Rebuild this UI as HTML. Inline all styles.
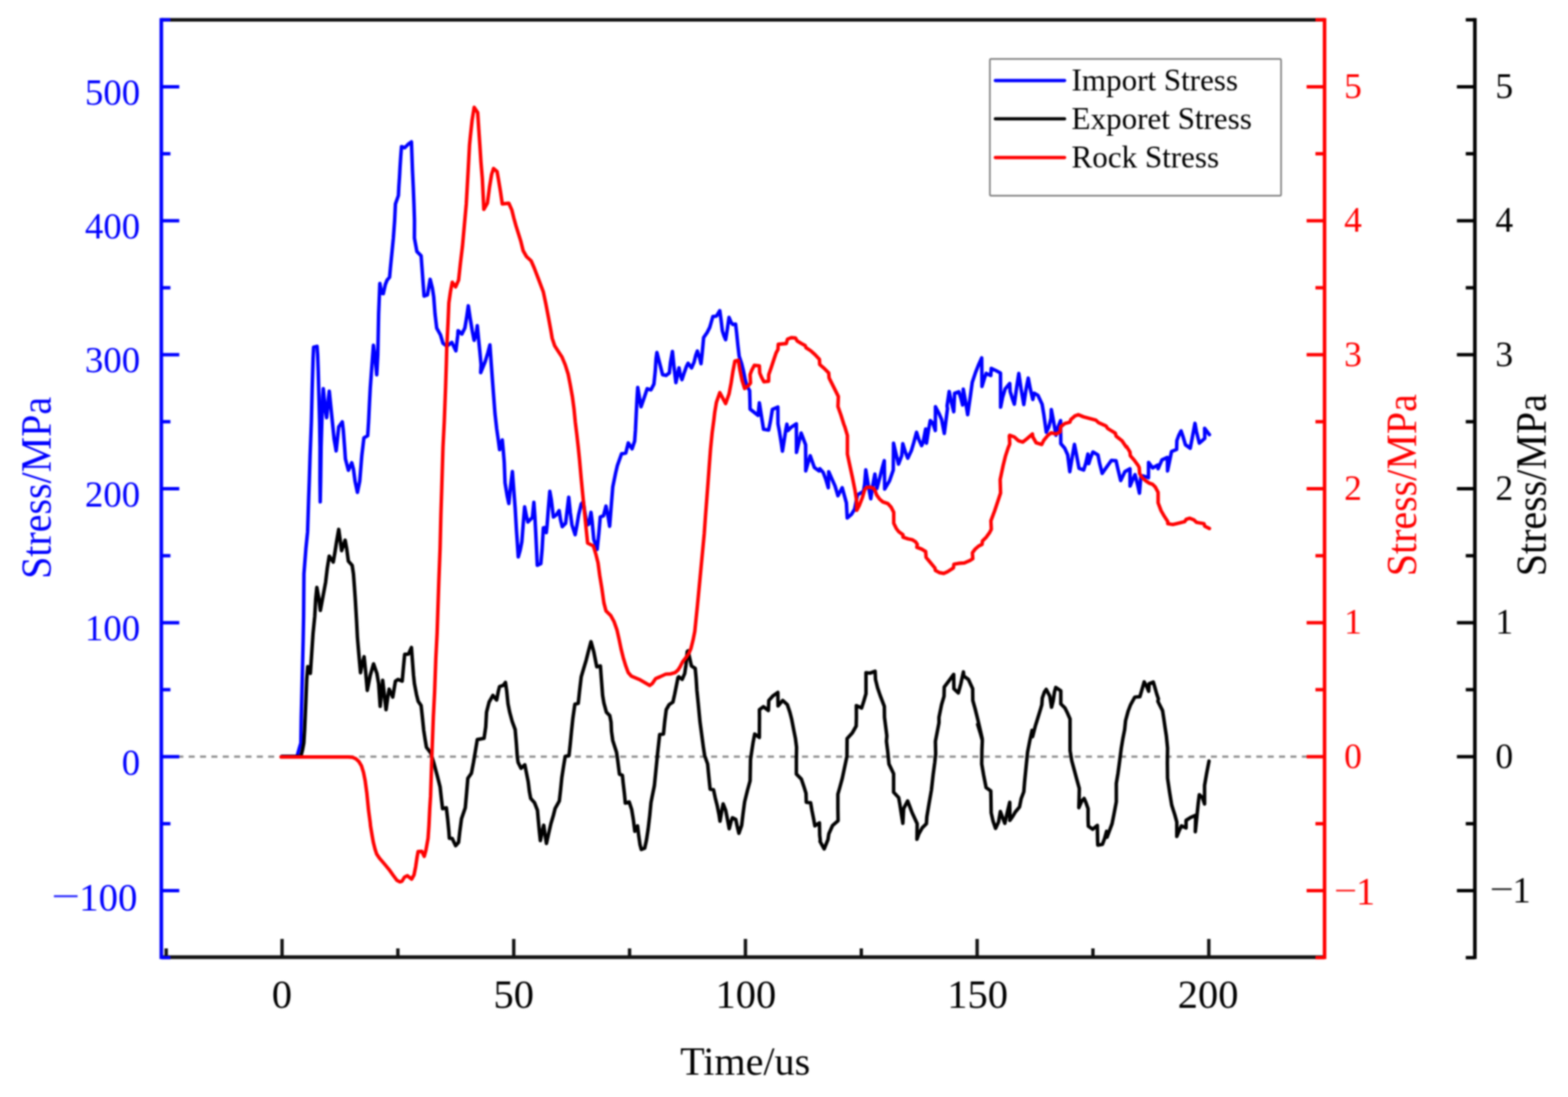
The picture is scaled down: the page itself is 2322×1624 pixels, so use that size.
<!DOCTYPE html>
<html lang="en"><head><meta charset="utf-8"><title>Stress vs Time</title>
<style>
html,body{margin:0;padding:0;background:#fff;}
body{width:2322px;height:1624px;overflow:hidden;}
svg{display:block;}
text{font-family:'Liberation Serif','Times New Roman',serif;}
</style></head><body>
<svg xmlns="http://www.w3.org/2000/svg" width="2322" height="1624" viewBox="0 0 2322 1624">
<defs><filter id="soft" x="0" y="0" width="2322" height="1624" filterUnits="userSpaceOnUse" color-interpolation-filters="sRGB"><feConvolveMatrix order="9" kernelMatrix="0.00000 0.00002 0.00011 0.00030 0.00043 0.00030 0.00011 0.00002 0.00000 0.00002 0.00021 0.00121 0.00343 0.00486 0.00343 0.00121 0.00021 0.00002 0.00011 0.00121 0.00687 0.01948 0.02757 0.01948 0.00687 0.00121 0.00011 0.00030 0.00343 0.01948 0.05520 0.07812 0.05520 0.01948 0.00343 0.00030 0.00043 0.00486 0.02757 0.07812 0.11055 0.07812 0.02757 0.00486 0.00043 0.00030 0.00343 0.01948 0.05520 0.07812 0.05520 0.01948 0.00343 0.00030 0.00011 0.00121 0.00687 0.01948 0.02757 0.01948 0.00687 0.00121 0.00011 0.00002 0.00021 0.00121 0.00343 0.00486 0.00343 0.00121 0.00021 0.00002 0.00000 0.00002 0.00011 0.00030 0.00043 0.00030 0.00011 0.00002 0.00000" divisor="1" edgeMode="duplicate" preserveAlpha="true"/></filter></defs>
<g filter="url(#soft)">
<rect width="2322" height="1624" fill="#fff"/>
<line x1="262.6" y1="1120.2" x2="1935.5" y2="1120.2" stroke="#8c8c8c" stroke-width="3.3" stroke-dasharray="8.9 7.92"/>
<polyline points="417.5,1119.9 439.9,1119.7 442.6,1110.0 445.5,1100.0 446.1,1061.9 447.1,1024.6 448.0,987.2 448.9,949.8 449.6,912.5 449.9,874.4 450.1,849.5 453.0,812.1 455.5,787.2 456.3,762.3 457.1,737.4 458.0,712.5 459.2,674.4 461.1,624.6 462.3,574.7 463.6,531.1 464.4,514.0 469.5,512.7 470.4,524.9 471.3,549.8 472.3,587.2 473.3,624.6 473.9,661.9 473.8,712.5 474.2,743.0 474.8,712.5 475.5,661.9 476.6,624.6 477.9,587.2 478.8,575.4 481.6,605.9 483.7,618.3 486.0,593.4 487.6,579.1 489.7,599.7 492.2,624.6 494.7,649.5 497.8,667.5 499.7,649.5 501.6,632.0 506.9,624.6 508.4,637.0 510.3,661.9 511.5,679.4 515.9,696.2 520.9,685.0 523.4,694.3 525.8,712.5 529.3,728.9 532.7,712.5 535.8,674.4 538.9,648.2 544.5,645.1 545.8,624.6 547.0,599.7 548.3,574.7 550.1,549.8 553.0,511.2 555.7,531.1 557.9,554.8 559.5,524.9 560.7,464.6 561.7,439.7 562.5,419.5 565.1,434.0 567.6,434.7 570.7,421.0 573.2,414.7 576.9,410.4 578.2,396.1 580.7,371.1 582.5,352.5 584.4,326.8 585.6,301.9 590.0,289.5 590.6,277.0 591.6,262.1 592.5,245.9 593.5,230.9 594.6,217.0 599.3,218.8 604.3,213.7 609.3,210.1 609.9,227.2 610.8,252.1 612.0,277.0 613.0,301.9 613.8,326.8 613.7,352.5 617.4,372.4 623.6,378.6 624.9,396.1 626.7,421.0 628.0,438.4 633.0,436.5 637.0,413.5 640.4,427.2 642.3,439.7 644.2,464.6 646.7,485.7 652.3,495.7 656.0,508.2 661.6,512.5 669.1,506.9 675.1,519.4 677.8,497.0 678.4,489.5 684.0,494.5 688.4,485.7 690.9,470.8 693.5,452.7 696.2,470.8 699.3,489.5 702.1,503.8 704.9,495.7 706.8,482.0 708.7,501.9 710.6,520.6 712.4,540.0 711.8,551.7 718.6,534.9 722.4,522.4 725.5,510.6 727.4,537.4 729.2,562.3 731.1,587.2 733.0,612.1 735.5,634.5 738.0,652.0 739.8,665.7 743.8,651.3 745.4,668.2 746.7,684.4 747.9,714.9 751.0,733.6 753.5,745.4 756.0,721.1 758.8,698.1 761.0,727.4 762.9,752.3 764.7,783.4 766.0,802.1 767.5,824.5 770.3,814.6 772.8,802.1 774.7,777.2 776.9,750.4 779.7,764.7 781.8,772.8 788.4,766.0 790.6,743.6 792.1,764.7 793.4,789.7 794.6,814.6 795.6,837.0 800.9,834.5 802.7,814.6 804.6,781.6 806.8,780.9 809.0,788.4 810.2,777.2 812.1,752.3 814.2,727.4 816.4,739.8 819.5,765.4 823.9,762.2 828.0,756.0 830.1,769.7 832.6,779.7 837.6,774.7 839.5,758.5 842.2,736.1 844.5,758.5 847.0,777.2 851.7,791.5 854.4,777.2 856.9,762.2 860.7,746.1 863.8,742.9 866.3,759.8 869.4,777.2 871.9,775.9 875.2,758.5 876.8,771.0 879.3,798.4 884.3,813.3 886.8,789.7 888.9,765.4 893.7,763.5 897.4,749.2 900.5,764.7 902.8,779.1 904.9,752.3 907.4,721.1 911.7,700.0 914.2,689.3 920.4,671.9 926.7,670.7 930.4,655.7 936.0,664.4 939.8,653.2 941.0,637.0 942.2,612.1 943.5,587.2 944.4,573.5 949.3,602.1 954.1,588.4 958.4,575.4 964.0,577.2 968.4,568.5 970.3,549.8 971.5,531.1 972.8,521.8 981.2,554.6 986.2,555.8 991.2,552.1 993.0,535.9 995.8,520.3 998.0,542.1 1000.9,566.4 1003.4,554.6 1005.5,544.6 1007.4,554.6 1009.9,562.0 1013.6,550.8 1016.7,542.1 1019.0,537.7 1024.2,544.6 1027.9,535.9 1030.4,525.9 1032.7,519.7 1036.0,529.7 1038.1,538.4 1039.8,523.4 1042.0,499.8 1047.2,492.3 1051.0,484.8 1053.5,476.1 1055.7,468.6 1060.9,468.0 1065.9,459.9 1067.8,473.6 1069.7,489.8 1072.1,497.3 1074.6,502.9 1077.1,487.3 1079.6,469.9 1082.7,477.3 1085.2,480.4 1089.3,479.8 1090.8,492.3 1092.7,511.0 1094.6,527.2 1098.3,538.4 1100.8,548.3 1103.3,560.8 1105.8,570.8 1110.1,578.2 1110.5,591.9 1110.8,605.6 1122.6,615.0 1124.5,596.3 1130.7,635.5 1138.2,636.7 1140.7,624.9 1143.8,606.2 1151.9,602.5 1152.1,627.4 1154.4,639.8 1156.8,654.8 1158.7,667.9 1161.2,652.3 1163.7,636.1 1165.3,628.0 1166.8,637.3 1171.8,632.4 1179.3,627.4 1179.5,669.7 1183.0,654.8 1186.4,641.1 1189.2,648.5 1193.0,658.5 1193.2,697.1 1196.7,684.7 1199.8,674.7 1202.9,683.4 1206.0,692.1 1212.9,697.1 1214.1,694.0 1219.1,699.6 1222.9,709.6 1226.6,722.0 1227.2,698.4 1231.6,708.3 1236.6,719.5 1240.9,733.9 1247.2,722.0 1250.3,733.2 1253.4,744.5 1254.6,766.9 1261.1,761.2 1265.5,753.8 1268.0,741.9 1269.9,732.6 1278.6,727.6 1280.4,717.0 1282.1,695.6 1284.2,708.3 1286.7,723.2 1289.5,738.4 1292.3,719.5 1295.6,701.8 1298.5,723.2 1303.5,704.6 1306.6,692.1 1309.5,681.9 1310.1,723.9 1317.2,712.0 1322.8,695.8 1323.2,656.2 1327.2,673.4 1330.6,687.1 1335.3,674.7 1336.9,656.9 1340.9,669.7 1344.3,678.4 1349.6,667.2 1353.3,654.7 1357.3,640.0 1360.8,651.0 1364.8,659.7 1367.0,654.7 1370.8,635.1 1372.0,656.2 1375.1,636.1 1377.6,622.6 1381.3,626.1 1385.1,637.3 1385.3,602.2 1390.7,612.4 1394.4,621.1 1398.4,641.7 1400.7,623.6 1403.1,604.9 1402.5,600.8 1405.6,579.6 1408.7,594.6 1412.4,609.5 1413.7,582.1 1419.9,579.9 1423.0,589.6 1425.5,599.5 1426.5,576.1 1429.9,594.6 1433.0,613.9 1436.7,588.3 1439.8,565.9 1444.8,551.0 1449.8,538.5 1453.8,529.8 1454.2,572.1 1457.9,559.7 1460.4,552.8 1467.2,555.9 1467.9,545.4 1474.7,548.5 1481.6,552.2 1481.8,602.7 1484.7,588.3 1488.4,575.9 1495.3,567.8 1495.9,579.6 1499.0,589.6 1502.1,598.3 1505.2,575.9 1508.7,552.8 1512.1,575.9 1516.1,598.9 1519.5,575.9 1522.7,559.7 1525.8,575.9 1529.5,591.4 1531.4,582.1 1537.0,585.2 1543.2,598.3 1545.7,613.2 1549.4,640.0 1553.2,631.9 1556.3,619.5 1556.9,606.4 1559.4,619.5 1563.8,644.4 1566.9,631.9 1570.6,622.6 1570.9,656.8 1576.7,663.5 1581.1,673.4 1584.2,698.3 1587.3,679.7 1591.1,657.9 1594.2,673.4 1597.9,693.4 1604.8,695.8 1607.9,685.9 1611.0,672.2 1612.2,686.5 1614.7,678.4 1618.5,669.1 1625.9,673.4 1628.4,685.9 1632.2,700.8 1638.4,692.1 1645.9,681.5 1652.7,682.1 1655.8,695.8 1659.6,711.4 1665.8,698.3 1673.3,694.0 1673.5,719.5 1677.6,709.5 1680.8,702.7 1684.5,717.0 1687.4,730.1 1689.5,704.6 1693.2,704.6 1700.7,707.1 1700.9,684.6 1706.9,692.7 1714.4,688.4 1715.0,694.0 1720.6,680.9 1728.7,677.2 1729.0,697.1 1731.8,683.4 1734.9,668.4 1742.4,665.3 1742.8,652.2 1745.5,644.8 1749.0,637.9 1751.8,646.0 1755.5,658.5 1762.6,663.5 1765.5,648.5 1769.6,626.7 1771.7,638.5 1776.0,656.0 1784.1,649.1 1783.9,634.2 1791.0,643.5" fill="none" stroke="#0000ff" stroke-width="5.2" stroke-linejoin="round" stroke-linecap="round"/>
<polyline points="417.5,1119.9 445.5,1119.7 448.0,1110.0 449.9,1100.0 451.1,1080.6 453.0,1037.0 454.2,1005.9 455.8,986.8 459.6,996.9 461.1,974.7 463.6,937.4 466.1,912.5 467.5,886.8 469.2,869.7 472.3,886.8 474.4,903.7 482.2,861.9 484.7,840.8 487.5,823.3 493.5,832.0 495.9,818.3 498.4,802.1 501.6,783.7 505.9,815.2 511.1,799.7 513.4,812.1 515.9,830.8 521.5,837.0 523.4,849.5 524.8,868.2 526.1,886.8 528.0,918.7 529.3,943.6 531.4,968.5 533.9,995.9 535.8,984.7 539.2,972.2 541.4,993.4 543.9,1022.1 548.3,999.7 553.2,982.8 558.2,997.2 560.7,1012.1 563.0,1045.7 566.7,1007.1 571.7,1050.7 574.4,1030.8 576.3,1020.2 581.6,1032.0 585.6,1008.4 589.4,1005.9 595.6,1008.4 597.5,987.2 599.3,968.5 604.9,968.3 609.3,958.5 610.5,974.7 612.4,999.7 613.7,1012.1 616.8,1028.3 619.3,1038.3 623.6,1044.5 625.5,1061.9 627.4,1080.6 629.5,1094.3 631.5,1106.2 638.0,1114.9 642.9,1131.1 647.9,1149.8 651.7,1164.8 653.5,1181.0 655.4,1197.2 661.0,1195.9 662.9,1212.1 664.7,1230.8 665.4,1240.8 669.7,1241.4 674.7,1252.0 679.1,1247.0 680.9,1230.8 683.4,1212.1 689.0,1195.9 690.9,1174.7 692.8,1152.3 698.1,1144.7 701.2,1128.5 703.7,1113.6 706.8,1094.9 716.8,1093.0 719.3,1076.2 720.5,1054.4 724.3,1039.4 729.9,1029.5 735.5,1036.3 738.0,1023.2 739.8,1016.4 745.4,1014.5 748.5,1010.2 750.4,1023.2 752.3,1041.9 754.8,1054.4 758.5,1068.1 762.9,1080.0 764.7,1101.1 766.0,1119.8 767.2,1128.5 771.6,1137.3 777.2,1132.3 779.7,1144.7 782.2,1157.2 784.0,1172.1 785.9,1182.1 791.5,1188.3 795.9,1199.5 797.1,1213.2 798.6,1229.4 800.2,1244.4 802.7,1231.9 805.2,1221.7 807.1,1235.7 809.2,1248.7 812.1,1235.7 815.8,1219.5 819.5,1207.0 822.0,1197.1 828.3,1185.8 830.1,1169.7 832.0,1151.0 834.5,1134.8 837.0,1119.8 842.6,1118.6 844.5,1101.1 846.3,1082.5 848.2,1064.4 851.3,1042.6 856.3,1041.3 858.2,1023.2 860.7,1002.1 864.4,989.6 868.1,977.2 871.9,962.2 875.2,950.0 879.3,964.7 883.7,987.1 889.1,985.9 890.5,1004.6 892.4,1029.5 894.3,1040.7 898.0,1054.4 903.0,1059.4 904.9,1069.3 905.5,1082.5 907.4,1096.2 913.0,1113.6 914.8,1126.1 917.3,1146.0 921.7,1147.9 922.9,1159.7 924.8,1175.9 926.0,1189.0 931.7,1187.1 935.4,1198.3 937.9,1213.2 940.1,1230.7 944.1,1222.6 946.0,1238.2 947.8,1250.6 949.7,1257.5 954.7,1255.6 957.2,1244.4 959.7,1228.2 962.2,1207.0 964.0,1188.3 965.9,1178.4 969.0,1163.4 971.5,1138.5 974.0,1113.6 976.9,1087.4 982.5,1086.7 984.3,1068.7 986.6,1050.6 990.9,1043.1 996.5,1039.4 999.0,1028.2 1001.5,1015.7 1004.0,1003.2 1005.3,1002.0 1010.2,1005.7 1014.0,997.0 1015.8,984.6 1017.7,964.6 1019.0,963.4 1021.4,974.6 1023.9,985.8 1029.5,989.5 1030.8,1003.2 1032.0,1021.9 1033.9,1040.6 1036.6,1068.7 1039.1,1087.4 1041.6,1106.1 1043.5,1118.5 1047.9,1131.0 1049.7,1149.7 1051.6,1168.3 1056.6,1169.0 1059.1,1180.8 1062.2,1193.2 1064.7,1205.7 1066.2,1215.7 1069.0,1199.5 1070.9,1190.1 1074.6,1199.5 1077.1,1211.9 1079.9,1226.9 1082.7,1215.7 1084.6,1210.7 1089.6,1213.2 1091.4,1221.9 1094.2,1233.7 1098.3,1221.9 1100.2,1205.7 1102.7,1187.0 1107.0,1169.6 1110.8,1155.9 1111.4,1124.7 1113.2,1112.3 1115.1,1099.8 1117.6,1086.7 1124.5,1091.7 1124.6,1074.9 1124.7,1062.5 1124.6,1050.6 1130.4,1046.2 1137.9,1051.8 1138.5,1036.9 1144.1,1030.7 1151.9,1025.0 1152.2,1045.0 1159.1,1036.9 1165.9,1043.1 1169.7,1054.3 1172.4,1064.9 1175.5,1081.1 1178.0,1093.6 1179.6,1106.1 1179.3,1124.7 1179.3,1145.9 1186.7,1153.4 1190.5,1164.6 1193.6,1174.6 1194.0,1187.6 1200.4,1188.3 1202.3,1199.5 1204.8,1211.9 1206.7,1222.5 1213.5,1218.2 1213.9,1236.8 1214.8,1244.3 1214.3,1245.6 1220.5,1256.8 1226.1,1243.1 1227.4,1234.4 1233.0,1221.9 1241.1,1215.1 1240.8,1197.0 1240.8,1175.8 1243.6,1165.9 1247.3,1152.2 1251.0,1134.7 1254.2,1119.8 1254.4,1093.6 1262.2,1084.9 1267.9,1074.9 1268.2,1061.9 1268.1,1044.5 1275.9,1048.2 1279.1,1038.3 1282.4,1027.1 1282.4,1012.1 1282.4,995.9 1288.4,996.5 1295.9,993.7 1296.5,1005.9 1299.6,1018.3 1303.4,1029.5 1309.6,1045.7 1309.8,1061.9 1311.4,1074.4 1313.3,1089.3 1312.7,1097.4 1314.6,1112.3 1316.4,1131.0 1323.3,1145.3 1323.3,1172.7 1330.8,1180.8 1332.6,1190.8 1334.5,1203.2 1337.0,1218.8 1338.2,1197.0 1344.1,1185.8 1347.0,1193.3 1350.7,1203.2 1358.2,1219.4 1357.9,1242.5 1360.7,1234.4 1365.6,1225.7 1371.9,1219.4 1372.5,1209.5 1375.6,1190.8 1379.3,1169.6 1381.8,1147.2 1384.3,1128.5 1385.6,1116.1 1385.2,1097.4 1388.1,1082.4 1390.5,1070.0 1390.5,1061.9 1394.3,1043.2 1398.0,1030.8 1398.3,1017.1 1404.9,1008.4 1412.3,998.4 1412.6,1019.6 1419.2,1025.8 1422.9,1012.1 1426.7,994.7 1427.3,1000.9 1434.1,1005.9 1440.4,1019.6 1440.6,1037.0 1444.1,1049.5 1447.8,1064.4 1451.6,1080.6 1454.7,1094.3 1447.8,1072.5 1451.6,1084.9 1454.7,1096.1 1454.1,1109.8 1453.8,1131.0 1456.6,1147.2 1460.3,1165.9 1467.2,1170.9 1467.5,1184.6 1467.8,1203.2 1470.6,1215.7 1474.3,1226.3 1478.7,1217.0 1481.4,1201.4 1484.9,1210.8 1488.0,1218.9 1491.8,1202.0 1495.3,1187.7 1495.5,1214.5 1499.9,1208.3 1503.6,1202.0 1509.8,1194.6 1512.3,1182.1 1516.1,1172.1 1517.3,1157.2 1519.8,1132.3 1521.7,1113.6 1524.8,1097.4 1528.3,1081.2 1529.1,1090.6 1533.5,1073.7 1537.2,1061.9 1541.0,1049.5 1542.8,1043.2 1543.5,1033.3 1546.6,1024.6 1549.4,1020.6 1554.7,1030.8 1557.2,1047.0 1559.7,1037.0 1561.5,1024.6 1563.4,1017.7 1570.9,1022.7 1570.9,1042.0 1577.1,1048.2 1580.8,1055.7 1584.6,1064.4 1584.6,1080.6 1584.6,1111.1 1587.1,1126.1 1590.8,1139.8 1594.5,1153.5 1598.3,1167.2 1598.0,1182.1 1597.6,1195.8 1602.0,1185.8 1605.5,1182.1 1608.2,1188.3 1611.3,1197.1 1611.3,1213.2 1611.7,1223.2 1618.2,1227.6 1625.0,1222.0 1625.4,1244.4 1625.7,1251.2 1632.5,1250.0 1635.6,1241.9 1638.7,1230.7 1639.4,1239.4 1643.1,1229.4 1646.8,1219.5 1649.3,1207.0 1653.1,1187.1 1653.1,1159.7 1655.6,1144.7 1658.1,1126.1 1660.5,1107.4 1663.0,1092.4 1665.5,1080.0 1666.8,1066.9 1670.5,1053.2 1674.3,1043.2 1680.5,1032.0 1688.0,1031.4 1690.4,1023.3 1692.9,1014.6 1694.4,1009.4 1698.5,1017.1 1701.0,1023.3 1701.7,1012.1 1707.9,1009.6 1710.4,1018.3 1712.9,1027.1 1715.4,1034.5 1714.7,1038.3 1721.6,1052.0 1723.5,1064.4 1725.3,1076.9 1727.2,1089.3 1729.0,1107.4 1728.7,1129.8 1729.0,1152.2 1732.1,1173.4 1735.2,1192.1 1739.6,1205.8 1742.7,1217.0 1742.7,1238.2 1745.8,1230.7 1749.5,1222.6 1756.4,1225.7 1756.4,1214.5 1763.2,1210.1 1770.7,1207.0 1770.1,1231.3 1772.6,1207.0 1774.5,1188.3 1776.0,1176.5 1780.7,1180.9 1783.8,1190.2 1783.8,1162.8 1786.9,1144.7 1790.4,1126.7" fill="none" stroke="#000000" stroke-width="5.2" stroke-linejoin="round" stroke-linecap="round"/>
<polyline points="416.2,1120.6 515.9,1120.6 522.1,1121.1 527.1,1123.3 531.4,1127.4 535.2,1133.6 538.3,1143.6 540.8,1156.1 543.3,1174.7 545.8,1199.7 548.3,1218.3 548.6,1222.3 551.1,1237.2 552.9,1247.2 555.4,1257.2 557.9,1264.6 562.3,1270.9 569.8,1279.6 576.0,1287.1 582.2,1295.8 587.8,1303.2 592.2,1305.5 595.3,1304.5 599.0,1298.5 603.4,1296.4 609.6,1301.4 613.1,1295.2 615.6,1282.7 617.7,1268.4 619.2,1260.6 624.6,1260.4 628.3,1267.7 630.8,1258.4 633.9,1241.0 635.2,1222.3 636.4,1197.4 637.6,1178.7 639.8,1112.5 641.7,1061.9 643.6,1024.6 645.4,974.7 647.3,937.4 649.8,861.9 651.7,812.1 652.9,762.3 654.1,724.9 656.0,661.9 657.9,624.6 659.8,574.7 661.0,537.4 661.6,514.4 663.5,477.0 664.7,448.4 667.2,430.9 669.7,417.9 674.7,424.7 679.1,414.7 681.8,389.8 684.8,364.9 690.5,301.9 693.3,252.1 695.3,214.7 696.5,202.3 699.2,177.4 702.2,158.9 707.4,166.8 708.9,189.8 710.6,214.7 712.2,239.7 714.3,264.6 715.5,289.5 716.5,310.0 721.8,300.7 724.9,277.0 728.0,258.3 730.9,249.4 736.1,254.0 738.0,264.6 741.1,283.2 743.8,301.9 753.5,300.9 757.9,310.7 761.0,323.1 764.1,334.3 771.0,356.2 774.7,371.1 779.7,379.9 786.5,386.1 790.9,396.1 797.1,412.2 804.6,432.2 808.3,449.6 812.1,469.5 815.8,489.5 817.7,500.7 821.4,511.9 827.0,520.6 832.0,528.1 837.0,540.0 841.3,553.6 844.5,569.8 847.6,587.2 850.1,605.9 851.9,624.6 854.2,643.2 856.3,661.9 858.2,680.6 860.7,708.7 863.1,733.6 865.6,758.5 868.1,783.4 870.2,804.0 878.7,808.3 882.5,820.8 885.6,833.2 888.1,851.9 891.2,870.6 894.3,892.5 897.4,904.3 904.3,911.1 909.2,919.9 913.6,932.3 916.7,946.0 919.8,961.0 922.9,973.4 926.7,985.9 930.4,995.8 934.8,1000.8 946.6,1005.8 955.3,1010.8 962.2,1014.8 965.9,1012.0 970.9,1004.6 977.2,1002.0 985.9,998.0 993.4,997.6 999.7,995.8 1004.0,992.0 1007.1,987.1 1010.9,979.6 1015.8,973.4 1020.2,967.1 1023.3,959.7 1026.4,947.2 1028.9,934.7 1030.8,916.1 1032.7,897.4 1034.5,878.7 1042.9,790.0 1044.7,764.4 1046.6,739.5 1048.5,714.6 1050.3,689.7 1052.2,664.7 1054.7,639.8 1057.2,621.1 1058.4,610.6 1060.9,595.7 1065.9,581.3 1074.6,597.5 1079.6,583.2 1082.7,567.0 1085.2,550.8 1088.3,534.6 1093.3,533.4 1095.8,548.3 1098.9,563.3 1102.7,575.1 1108.3,570.8 1111.4,567.0 1110.8,554.6 1113.2,548.3 1117.0,540.9 1124.5,541.5 1125.1,552.1 1127.6,558.3 1131.3,565.2 1138.2,564.5 1138.4,554.6 1141.9,544.6 1145.6,533.4 1149.4,522.2 1152.1,517.2 1152.5,509.7 1164.3,508.7 1166.2,502.2 1171.8,499.8 1178.0,500.4 1180.5,504.7 1186.7,508.5 1192.3,511.6 1193.6,514.7 1200.4,519.1 1206.7,524.7 1213.5,532.1 1213.9,539.6 1220.4,545.2 1227.2,552.1 1227.8,559.5 1232.8,569.5 1237.8,579.5 1241.5,587.0 1240.9,601.9 1245.3,614.4 1249.6,628.1 1251.2,632.3 1254.9,644.8 1254.9,672.2 1258.6,689.6 1262.4,707.1 1266.1,725.7 1268.6,741.9 1268.7,755.4 1272.4,748.6 1276.8,737.4 1280.5,724.9 1283.0,721.8 1288.6,721.2 1293.6,723.0 1296.1,726.8 1298.0,732.4 1302.3,738.6 1307.3,743.0 1314.8,745.5 1319.8,751.1 1323.5,758.5 1323.5,774.7 1327.2,782.2 1331.0,787.2 1337.2,791.6 1337.2,795.3 1344.7,797.8 1350.9,799.0 1355.9,802.1 1358.4,805.9 1357.7,810.2 1364.6,812.7 1370.8,816.5 1371.4,825.2 1377.1,832.0 1384.5,840.8 1385.2,844.5 1390.8,847.6 1397.6,848.9 1403.2,846.4 1411.9,840.8 1412.6,835.2 1420.7,833.9 1428.1,833.3 1435.6,830.2 1440.6,827.1 1440.0,818.3 1444.3,812.7 1449.3,808.4 1454.3,805.9 1454.9,800.9 1460.5,795.3 1465.5,788.4 1468.0,783.5 1467.4,771.0 1473.0,756.1 1478.0,741.1 1481.7,729.9 1481.1,710.0 1485.4,689.6 1489.1,674.7 1492.8,663.5 1495.3,657.2 1494.7,645.4 1495.3,644.4 1502.1,646.9 1508.3,652.5 1514.6,654.4 1520.8,649.4 1528.9,642.5 1529.5,646.9 1534.5,655.6 1542.6,658.1 1545.7,651.9 1551.9,644.4 1556.9,640.7 1563.8,642.5 1570.0,639.4 1570.6,631.9 1576.8,627.0 1584.3,625.1 1585.6,621.3 1591.8,615.7 1596.8,613.9 1604.3,617.0 1611.7,618.9 1622.9,622.0 1626.7,625.7 1637.9,630.7 1640.4,634.4 1651.6,641.3 1652.8,645.6 1661.5,652.5 1667.8,661.8 1668.3,661.0 1673.3,669.1 1673.9,674.7 1679.5,680.9 1685.7,689.6 1687.0,692.1 1687.6,700.8 1691.3,707.1 1697.0,712.0 1701.9,715.2 1706.9,717.0 1710.7,720.8 1715.0,728.9 1715.0,744.4 1719.4,756.0 1724.4,764.7 1729.3,772.2 1729.3,775.3 1736.8,776.5 1744.3,774.7 1754.3,772.2 1756.7,768.7 1761.7,767.2 1768.0,769.7 1771.7,773.2 1782.9,775.3 1784.1,779.0 1791.0,782.4" fill="none" stroke="#ff0000" stroke-width="5.2" stroke-linejoin="round" stroke-linecap="round"/>
<g stroke="#111" stroke-width="5.3" fill="none">
<line x1="238.9" y1="29.3" x2="1961.5" y2="29.3"/>
<line x1="238.9" y1="1417.0" x2="1961.5" y2="1417.0"/>
</g>
<g stroke="#111" stroke-width="5" fill="none">
<line x1="246.1" y1="1417.0" x2="246.1" y2="1404.0"/>
<line x1="417.7" y1="1417.0" x2="417.7" y2="1390.0"/>
<line x1="589.2" y1="1417.0" x2="589.2" y2="1404.0"/>
<line x1="760.8" y1="1417.0" x2="760.8" y2="1390.0"/>
<line x1="932.3" y1="1417.0" x2="932.3" y2="1404.0"/>
<line x1="1103.9" y1="1417.0" x2="1103.9" y2="1390.0"/>
<line x1="1275.5" y1="1417.0" x2="1275.5" y2="1404.0"/>
<line x1="1447.0" y1="1417.0" x2="1447.0" y2="1390.0"/>
<line x1="1618.5" y1="1417.0" x2="1618.5" y2="1404.0"/>
<line x1="1790.1" y1="1417.0" x2="1790.1" y2="1390.0"/>
</g>
<g stroke="#0000ff" stroke-width="5.3" fill="none">
<line x1="238.9" y1="26.65" x2="238.9" y2="1419.65"/>
</g>
<g stroke="#0000ff" stroke-width="5" fill="none">
<line x1="238.9" y1="1318.5" x2="265.5" y2="1318.5"/>
<line x1="238.9" y1="1120.2" x2="265.5" y2="1120.2"/>
<line x1="238.9" y1="921.9" x2="265.5" y2="921.9"/>
<line x1="238.9" y1="723.5" x2="265.5" y2="723.5"/>
<line x1="238.9" y1="525.1" x2="265.5" y2="525.1"/>
<line x1="238.9" y1="326.8" x2="265.5" y2="326.8"/>
<line x1="238.9" y1="128.5" x2="265.5" y2="128.5"/>
<line x1="238.9" y1="1417.7" x2="252.4" y2="1417.7"/>
<line x1="238.9" y1="1219.4" x2="252.4" y2="1219.4"/>
<line x1="238.9" y1="1021.0" x2="252.4" y2="1021.0"/>
<line x1="238.9" y1="822.7" x2="252.4" y2="822.7"/>
<line x1="238.9" y1="624.3" x2="252.4" y2="624.3"/>
<line x1="238.9" y1="426.0" x2="252.4" y2="426.0"/>
<line x1="238.9" y1="227.6" x2="252.4" y2="227.6"/>
<line x1="238.9" y1="29.3" x2="252.4" y2="29.3"/>
</g>
<g stroke="#ff0000" stroke-width="5.3" fill="none">
<line x1="1961.5" y1="26.65" x2="1961.5" y2="1419.65"/>
</g>
<g stroke="#ff0000" stroke-width="5" fill="none">
<line x1="1961.5" y1="1318.5" x2="1934.9" y2="1318.5"/>
<line x1="1961.5" y1="1120.2" x2="1934.9" y2="1120.2"/>
<line x1="1961.5" y1="921.9" x2="1934.9" y2="921.9"/>
<line x1="1961.5" y1="723.5" x2="1934.9" y2="723.5"/>
<line x1="1961.5" y1="525.1" x2="1934.9" y2="525.1"/>
<line x1="1961.5" y1="326.8" x2="1934.9" y2="326.8"/>
<line x1="1961.5" y1="128.5" x2="1934.9" y2="128.5"/>
<line x1="1961.5" y1="1417.7" x2="1948.0" y2="1417.7"/>
<line x1="1961.5" y1="1219.4" x2="1948.0" y2="1219.4"/>
<line x1="1961.5" y1="1021.0" x2="1948.0" y2="1021.0"/>
<line x1="1961.5" y1="822.7" x2="1948.0" y2="822.7"/>
<line x1="1961.5" y1="624.3" x2="1948.0" y2="624.3"/>
<line x1="1961.5" y1="426.0" x2="1948.0" y2="426.0"/>
<line x1="1961.5" y1="227.6" x2="1948.0" y2="227.6"/>
<line x1="1961.5" y1="29.3" x2="1948.0" y2="29.3"/>
</g>
<g stroke="#000000" stroke-width="5.3" fill="none">
<line x1="2184.1" y1="26.65" x2="2184.1" y2="1419.65"/>
</g>
<g stroke="#000000" stroke-width="5" fill="none">
<line x1="2184.1" y1="1318.5" x2="2157.5" y2="1318.5"/>
<line x1="2184.1" y1="1120.2" x2="2157.5" y2="1120.2"/>
<line x1="2184.1" y1="921.9" x2="2157.5" y2="921.9"/>
<line x1="2184.1" y1="723.5" x2="2157.5" y2="723.5"/>
<line x1="2184.1" y1="525.1" x2="2157.5" y2="525.1"/>
<line x1="2184.1" y1="326.8" x2="2157.5" y2="326.8"/>
<line x1="2184.1" y1="128.5" x2="2157.5" y2="128.5"/>
<line x1="2184.1" y1="1417.7" x2="2170.6" y2="1417.7"/>
<line x1="2184.1" y1="1219.4" x2="2170.6" y2="1219.4"/>
<line x1="2184.1" y1="1021.0" x2="2170.6" y2="1021.0"/>
<line x1="2184.1" y1="822.7" x2="2170.6" y2="822.7"/>
<line x1="2184.1" y1="624.3" x2="2170.6" y2="624.3"/>
<line x1="2184.1" y1="426.0" x2="2170.6" y2="426.0"/>
<line x1="2184.1" y1="227.6" x2="2170.6" y2="227.6"/>
<line x1="2184.1" y1="29.3" x2="2170.6" y2="29.3"/>
</g>
<g font-size="54.5" fill="#0000ff" text-anchor="end">
<text x="207.6" y="1146.5">0</text>
<text x="207.6" y="948.1">100</text>
<text x="207.6" y="749.8">200</text>
<text x="207.6" y="551.4">300</text>
<text x="207.6" y="353.1">400</text>
<text x="207.6" y="154.8">500</text>
</g>
<text font-size="57.5" fill="#0000ff"><tspan x="76.0" y="1345.6" font-size="57.5" textLength="42.5" lengthAdjust="spacingAndGlyphs" fill-opacity="0.85">−</tspan><tspan x="117.3" y="1348.3">100</tspan></text>
<g font-size="52.5" fill="#ff0000">
<text x="1990.6" y="1136.6">0</text>
<text x="1990.6" y="938.2">1</text>
<text x="1990.6" y="739.9">2</text>
<text x="1990.6" y="541.5">3</text>
<text x="1990.6" y="343.2">4</text>
<text x="1990.6" y="144.9">5</text>
</g>
<g font-size="52.5" fill="#000000">
<text x="2214.4" y="1136.6">0</text>
<text x="2214.4" y="938.2">1</text>
<text x="2214.4" y="739.9">2</text>
<text x="2214.4" y="541.5">3</text>
<text x="2214.4" y="343.2">4</text>
<text x="2214.4" y="144.9">5</text>
</g>
<text font-size="56" fill="#ff0000"><tspan x="1975.4" y="1336.5" font-size="56" textLength="34.0" lengthAdjust="spacingAndGlyphs" fill-opacity="0.85">−</tspan><tspan x="2008.3" y="1338.8">1</tspan></text>
<text font-size="54" fill="#000000"><tspan x="2206.0" y="1334.2" font-size="54" textLength="35.5" lengthAdjust="spacingAndGlyphs" fill-opacity="0.85">−</tspan><tspan x="2239.8" y="1335.5">1</tspan></text>
<g font-size="60" fill="#000" text-anchor="middle">
<text x="417.4" y="1492.4">0</text>
<text x="760.8" y="1492.4">50</text>
<text x="1104.5" y="1492.4">100</text>
<text x="1447.8" y="1492.4">150</text>
<text x="1788.9" y="1492.4">200</text>
</g>
<text x="1103.6" y="1591.1" font-size="59.4" fill="#000" text-anchor="middle">Time/us</text>
<text transform="translate(74.9,722.3) rotate(-90)" font-size="62.4" fill="#0000ff" text-anchor="middle" textLength="269.5" lengthAdjust="spacingAndGlyphs">Stress/MPa</text>
<text transform="translate(2097.4,718.3) rotate(-90)" font-size="62.4" fill="#ff0000" text-anchor="middle" textLength="269.5" lengthAdjust="spacingAndGlyphs">Stress/MPa</text>
<text transform="translate(2288.9,718.3) rotate(-90)" font-size="62.4" fill="#000000" text-anchor="middle" textLength="269.5" lengthAdjust="spacingAndGlyphs">Stress/MPa</text>
<rect x="1465.9" y="87.3" width="431.2" height="202.4" fill="#fff" stroke="#7f7f7f" stroke-width="2.4" rx="2"/>
<line x1="1474" y1="119.2" x2="1576.5" y2="119.2" stroke="#0000ff" stroke-width="4.9" stroke-linecap="round"/>
<text x="1586.8" y="134.0" font-size="46.0" fill="#000">Import Stress</text>
<line x1="1474" y1="175.9" x2="1576.5" y2="175.9" stroke="#000000" stroke-width="4.9" stroke-linecap="round"/>
<text x="1586.8" y="191.3" font-size="46.0" fill="#000">Exporet Stress</text>
<line x1="1474" y1="233.3" x2="1576.5" y2="233.3" stroke="#ff0000" stroke-width="4.9" stroke-linecap="round"/>
<text x="1586.8" y="248.4" font-size="46.0" fill="#000">Rock Stress</text>
</g>
</svg>
</body></html>
